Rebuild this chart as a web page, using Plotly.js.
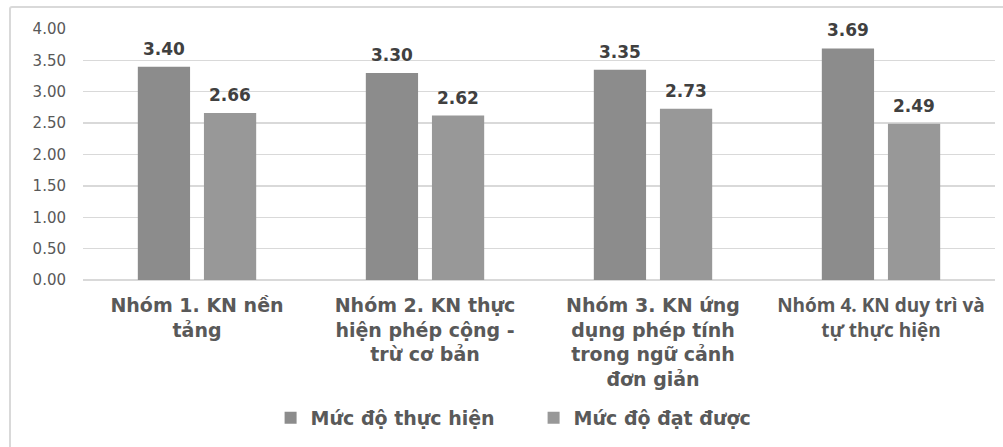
<!DOCTYPE html>
<html>
<head>
<meta charset="utf-8">
<script src="https://cdn.plot.ly/plotly-3.0.1.min.js"></script>
<style>
html,body{margin:0;padding:0;overflow:hidden;background:#fff;}
#frame{position:absolute;left:9px;top:6px;width:1100px;height:600px;border:2px solid #d9d9d9;border-radius:3px;pointer-events:none;z-index:2;}
#chart{position:absolute;left:0;top:0;width:1003px;height:447px;}
</style>
</head>
<body>
<div id="frame"></div>
<div id="chart"></div>
<script>
var categories = [
  "Nhóm 1. KN nền<br>tảng",
  "Nhóm 2. KN thực<br>hiện phép cộng -<br>trừ cơ bản",
  "Nhóm 3. KN ứng<br>dụng phép tính<br>trong ngữ cảnh<br>đơn giản",
  "<span style=\"font-family:'Open Sans';font-size:19px;font-weight:bold\">Nhóm 4. KN duy trì và<br>tự thực hiện</span>"
];
var seriesNames = ["Mức độ thực hiện", "Mức độ đạt được"];
var thucHien = [3.40, 3.30, 3.35, 3.69];
var datDuoc = [2.66, 2.62, 2.73, 2.49];
var yTicks = [0, 0.5, 1, 1.5, 2, 2.5, 3, 3.5, 4];

var bargap = 0.42;
var off = (1 - bargap) / 4;

var traces = [
  {type: "bar", name: "<b>" + seriesNames[0] + "</b>", x: categories, y: thucHien, marker: {color: "#8c8c8c"}, hoverinfo: "y"},
  {type: "bar", name: "<b>" + seriesNames[1] + "</b>", x: categories, y: datDuoc, marker: {color: "#989898"}, hoverinfo: "y"}
];

var annotations = [];
[thucHien, datDuoc].forEach(function (arr, s) {
  arr.forEach(function (v, i) {
    annotations.push({
      x: i + (s === 0 ? -off : off), y: v, xref: "x", yref: "y",
      text: "<b>" + v.toFixed(2) + "</b>", showarrow: false, yanchor: "bottom", yshift: 6,
      font: {family: "DejaVu Sans", size: 17, color: "#404040"}
    });
  });
});

var layout = {
  width: 1003, height: 447,
  margin: {l: 83, r: 8, t: 29, b: 167},
  paper_bgcolor: "rgba(0,0,0,0)", plot_bgcolor: "rgba(0,0,0,0)",
  barmode: "group", bargap: bargap, bargroupgap: 0.21,
  showlegend: true,
  legend: {
    orientation: "h", xref: "container", yref: "container",
    x: 0.532, xanchor: "center", y: 0.065, yanchor: "middle",
    font: {family: "DejaVu Sans", size: 19, color: "#595959"},
    entrywidth: 218, traceorder: "normal"
  },
  xaxis: {
    type: "category", showgrid: false, zeroline: false, showline: false,
    ticks: "", ticklabelstandoff: 12,
    tickfont: {family: "DejaVu Sans", size: 19, color: "#595959", weight: "bold"},
    tickangle: 0, automargin: false
  },
  yaxis: {
    range: [0, 4], tickvals: yTicks, ticktext: yTicks.map(function (t) { return t.toFixed(2); }),
    showgrid: true, gridcolor: "#d9d9d9", gridwidth: 1.3, zeroline: true, zerolinecolor: "#d9d9d9", zerolinewidth: 1.3,
    showline: false, ticks: "", ticklabelstandoff: 16,
    tickfont: {family: "DejaVu Sans", size: 15, color: "#595959"}, automargin: false
  },
  annotations: annotations,
  font: {family: "DejaVu Sans"}
};

Plotly.newPlot("chart", traces, layout, {displayModeBar: false, staticPlot: true});
</script>
</body>
</html>
